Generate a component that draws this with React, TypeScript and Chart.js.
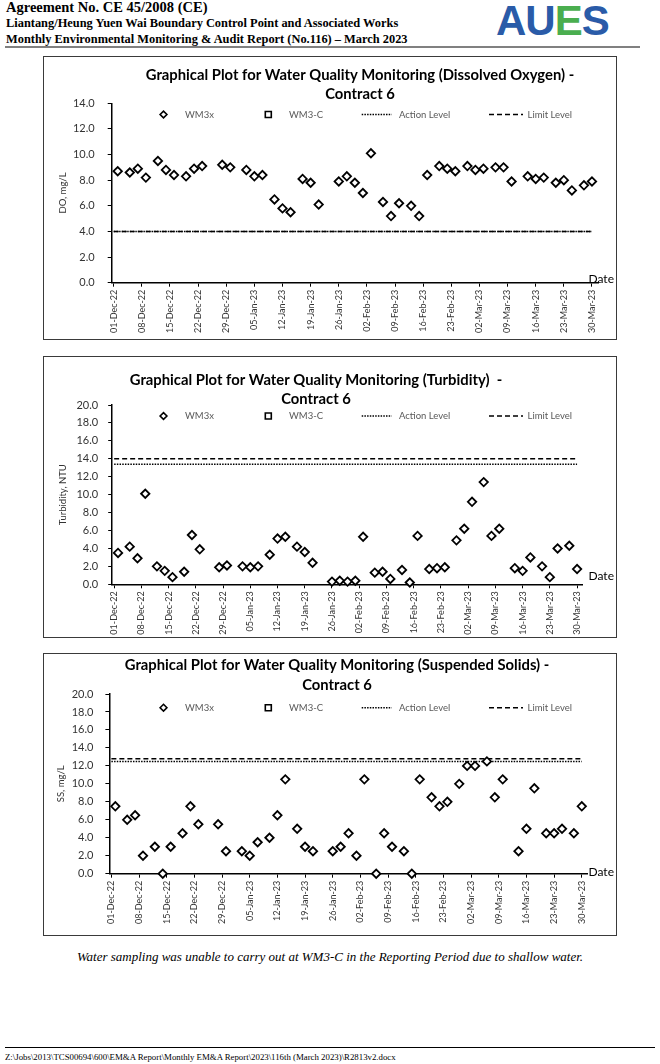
import React, { useEffect, useRef } from 'react';
import { Chart, registerables } from 'chart.js';

Chart.register(...registerables);

// ---------------- data ----------------
const sampleDates = [
  '2022-12-02', '2022-12-05', '2022-12-07', '2022-12-09', '2022-12-12', '2022-12-14',
  '2022-12-16', '2022-12-19', '2022-12-21', '2022-12-23', '2022-12-28', '2022-12-30',
  '2023-01-03', '2023-01-05', '2023-01-07', '2023-01-10', '2023-01-12', '2023-01-14',
  '2023-01-17', '2023-01-19', '2023-01-21', '2023-01-26', '2023-01-28', '2023-01-30',
  '2023-02-01', '2023-02-03', '2023-02-06', '2023-02-08', '2023-02-10', '2023-02-13',
  '2023-02-15', '2023-02-17', '2023-02-20', '2023-02-22', '2023-02-24', '2023-02-27',
  '2023-03-01', '2023-03-03', '2023-03-06', '2023-03-08', '2023-03-10', '2023-03-14',
  '2023-03-16', '2023-03-18', '2023-03-21', '2023-03-23', '2023-03-25', '2023-03-28',
  '2023-03-30',
];

const wm3xDO = [
  8.7, 8.6, 8.9, 8.2, 9.5, 8.8, 8.4, 8.3, 8.9, 9.1, 9.2, 9.0,
  8.8, 8.3, 8.4, 6.5, 5.8, 5.5, 8.1, 7.8, 6.1, 7.9, 8.3, 7.8,
  7.0, 10.1, 6.3, 5.2, 6.2, 6.0, 5.2, 8.4, 9.1, 8.9, 8.7, 9.1,
  8.8, 8.9, 9.0, 9.0, 7.9, 8.3, 8.1, 8.2, 7.8, 8.0, 7.2, 7.6, 7.9,
];

const wm3xTurbidity = [
  3.5, 4.2, 2.9, 10.1, 2.0, 1.5, 0.8, 1.4, 5.5, 3.9, 1.9, 2.1,
  2.0, 1.9, 2.0, 3.3, 5.1, 5.3, 4.2, 3.6, 2.4, 0.3, 0.4, 0.3,
  0.4, 5.3, 1.3, 1.4, 0.6, 1.6, 0.2, 5.4, 1.7, 1.8, 1.9, 4.9,
  6.2, 9.2, 11.4, 5.4, 6.2, 1.8, 1.5, 3.0, 2.0, 0.8, 4.0, 4.3, 1.7,
];

const wm3xSS = [
  7.5, 6.0, 6.5, 2.0, 3.0, 0.0, 3.0, 4.5, 7.5, 5.5, 5.5, 2.5,
  2.5, 2.0, 3.5, 4.0, 6.5, 10.5, 5.0, 3.0, 2.5, 2.5, 3.0, 4.5,
  2.0, 10.5, 0.0, 4.5, 3.0, 2.5, 0.0, 10.5, 8.5, 7.5, 8.0, 10.0,
  12.0, 12.0, 12.5, 8.5, 10.5, 2.5, 5.0, 9.5, 4.5, 4.5, 5.0, 4.5, 7.5,
];

// WM3-C: no sampling in the reporting period (shallow water)
const wm3cDO: number[] = [];
const wm3cTurbidity: number[] = [];
const wm3cSS: number[] = [];

const levelDates = ['2022-12-01', '2023-03-30'];
const doLevels = [4.0, 4.0]; // [action, limit]
const turbidityLevels = [13.4, 14.0];
const ssLevels = [12.5, 12.8];

const xTickLabels = [
  '01-Dec-22', '08-Dec-22', '15-Dec-22', '22-Dec-22', '29-Dec-22', '05-Jan-23',
  '12-Jan-23', '19-Jan-23', '26-Jan-23', '02-Feb-23', '09-Feb-23', '16-Feb-23',
  '23-Feb-23', '02-Mar-23', '09-Mar-23', '16-Mar-23', '23-Mar-23', '30-Mar-23',
];

const seriesNames = ['WM3x', 'WM3-C', 'Action Level', 'Limit Level'];

// ---------------- helpers ----------------
const BASE = Date.UTC(2022, 11, 1);
const MONTHS: Record<string, number> = {
  Jan: 0, Feb: 1, Mar: 2, Apr: 3, May: 4, Jun: 5, Jul: 6, Aug: 7, Sep: 8, Oct: 9, Nov: 10, Dec: 11,
};
const dayFromIso = (s: string) => {
  const [y, m, d] = s.split('-').map(Number);
  return (Date.UTC(y, m - 1, d) - BASE) / 864e5;
};
const dayFromLabel = (s: string) => {
  const [d, mon, yy] = s.split('-');
  return (Date.UTC(2000 + Number(yy), MONTHS[mon], Number(d)) - BASE) / 864e5;
};
const tickDays = xTickLabels.map(dayFromLabel);

const FONT = 'Lato, "Open Sans", sans-serif';

const decorPlugin = {
  id: 'excelDecor',
  afterDraw(chart: any, _a: any, o: any) {
    const ctx = chart.ctx as CanvasRenderingContext2D;
    ctx.save();
    ctx.fillStyle = '#000';
    ctx.textAlign = 'center';
    ctx.textBaseline = 'middle';
    ctx.font = `bold ${o.titleSize}px ${FONT}`;
    o.title.forEach((t: string, i: number) => ctx.fillText(t, o.titleX, o.titleY[i]));

    ctx.textAlign = 'left';
    chart.data.datasets.forEach((ds: any, i: number) => {
      const cx = o.legendX[i];
      const cy = o.legendY;
      ctx.strokeStyle = '#000';
      ctx.setLineDash([]);
      if (ds.showLine) {
        ctx.lineWidth = ds.borderWidth;
        ctx.setLineDash(ds.borderDash || []);
        const half = o.legendLineLen[i] / 2;
        ctx.beginPath();
        ctx.moveTo(cx - half, cy);
        ctx.lineTo(cx + half, cy);
        ctx.stroke();
        ctx.setLineDash([]);
      } else {
        ctx.lineWidth = 1.6;
        ctx.fillStyle = '#fff';
        ctx.beginPath();
        if (ds.pointStyle === 'rectRot') {
          const r = 3.4;
          ctx.moveTo(cx - r, cy);
          ctx.lineTo(cx, cy - r);
          ctx.lineTo(cx + r, cy);
          ctx.lineTo(cx, cy + r);
          ctx.closePath();
        } else {
          ctx.rect(cx - 3, cy - 3, 6, 6);
        }
        ctx.fill();
        ctx.stroke();
      }
      ctx.fillStyle = '#595959';
      ctx.font = `${o.legendSize}px ${FONT}`;
      ctx.fillText(ds.label, o.legendTextX[i], cy);
    });

    ctx.font = `${o.dateSize}px ${FONT}`;
    ctx.fillStyle = '#000';
    ctx.fillText('Date', o.dateX, o.dateY);
    ctx.restore();
  },
};

type Cfg = {
  box: { left: number; top: number; right: number; bottom: number };
  area: { left: number; top: number; right: number; bottom: number };
  yMax: number;
  yTitle: string;
  yTitleX: number;
  yTickPad: number;
  values: number[];
  wm3c: number[];
  levels: number[];
  title: string[];
  titleX: number;
  titleY: number[];
  legendY: number;
  dateY: number;
};

const charts: Cfg[] = [
  {
    box: { left: 43, top: 56, right: 617, bottom: 340 },
    area: { left: 111.7, top: 103.3, right: 598, bottom: 282.7 },
    yMax: 14, yTitle: 'DO, mg/L', yTitleX: 63.3, yTickPad: 13,
    values: wm3xDO, wm3c: wm3cDO, levels: doLevels,
    title: ['Graphical Plot for Water Quality Monitoring (Dissolved Oxygen) -', 'Contract 6'],
    titleX: 360, titleY: [75, 94.5], legendY: 114.5, dateY: 279.5,
  },
  {
    box: { left: 43, top: 356, right: 617, bottom: 638 },
    area: { left: 112.2, top: 405, right: 582.9, bottom: 584.3 },
    yMax: 20, yTitle: 'Turbidity, NTU', yTitleX: 63.3, yTickPad: 10,
    values: wm3xTurbidity, wm3c: wm3cTurbidity, levels: turbidityLevels,
    title: ['Graphical Plot for Water Quality Monitoring (Turbidity)  -', 'Contract 6'],
    titleX: 316, titleY: [380, 399.5], legendY: 416, dateY: 576,
  },
  {
    box: { left: 43, top: 653, right: 617, bottom: 936 },
    area: { left: 109.4, top: 694, right: 587.7, bottom: 873.7 },
    yMax: 20, yTitle: 'SS, mg/L', yTitleX: 60.7, yTickPad: 12,
    values: wm3xSS, wm3c: wm3cSS, levels: ssLevels,
    title: ['Graphical Plot for Water Quality Monitoring (Suspended Solids) -', 'Contract 6'],
    titleX: 337, titleY: [665, 685], legendY: 707.7, dateY: 872,
  },
];

function WQChart({ cfg }: { cfg: Cfg }) {
  const ref = useRef<HTMLCanvasElement>(null);
  const H = cfg.box.bottom - cfg.box.top;
  useEffect(() => {
    const top = cfg.box.top;
    const xH = H - (cfg.area.bottom - top);
    const tickFont = { family: FONT, size: 11 };
    const chart = new Chart(ref.current as HTMLCanvasElement, {
      type: 'scatter',
      data: {
        datasets: [
          {
            label: seriesNames[0],
            data: sampleDates.map((d, i) => ({ x: dayFromIso(d), y: cfg.values[i] })),
            pointStyle: 'rectRot',
            pointRadius: 4.2,
            pointBorderWidth: 1.8,
            borderColor: '#000',
            backgroundColor: '#fff',
            showLine: false,
            clip: false,
          },
          {
            label: seriesNames[1],
            data: cfg.wm3c.map((v, i) => ({ x: dayFromIso(sampleDates[i]), y: v })),
            pointStyle: 'rect',
            pointRadius: 4.2,
            pointBorderWidth: 1.8,
            borderColor: '#000',
            backgroundColor: '#fff',
            showLine: false,
          },
          {
            label: seriesNames[2],
            data: levelDates.map((d) => ({ x: dayFromIso(d), y: cfg.levels[0] })),
            showLine: true,
            borderColor: '#000',
            borderWidth: 1.5,
            borderDash: [1.5, 1.2],
            pointRadius: 0,
          },
          {
            label: seriesNames[3],
            data: levelDates.map((d) => ({ x: dayFromIso(d), y: cfg.levels[1] })),
            showLine: true,
            borderColor: '#000',
            borderWidth: 1.5,
            borderDash: [5, 3],
            pointRadius: 0,
          },
        ] as any,
      },
      options: {
        responsive: false,
        animation: false,
        devicePixelRatio: 1,
        layout: {
          padding: { left: 0, right: 660 - cfg.area.right, top: cfg.area.top - top, bottom: 0 },
        },
        plugins: {
          legend: { display: false },
          title: { display: false },
          tooltip: { enabled: false },
          excelDecor: {
            title: cfg.title,
            titleSize: 14.8,
            titleX: cfg.titleX,
            titleY: cfg.titleY.map((y) => y - top),
            legendX: [163.5, 268.3, 376.7, 506],
            legendTextX: [185, 289, 399, 527.5],
            legendLineLen: [0, 0, 30, 34],
            legendY: cfg.legendY - top,
            legendSize: 9.5,
            dateX: 588.5,
            dateY: cfg.dateY - top,
            dateSize: 12,
          },
        } as any,
        scales: {
          x: {
            type: 'linear',
            min: -0.5,
            max: 120.5,
            afterBuildTicks: (s: any) => {
              s.ticks = tickDays.map((v) => ({ value: v }));
            },
            afterFit: (s: any) => {
              s.height = xH;
              s.paddingLeft = 0;
              s.paddingRight = 0;
            },
            ticks: {
              autoSkip: false,
              minRotation: 90,
              maxRotation: 90,
              padding: 3,
              color: '#333',
              font: { family: FONT, size: 9 },
              callback: (_v: any, i: number) => xTickLabels[i],
            },
            grid: { drawOnChartArea: false, drawTicks: true, tickLength: 4, color: '#000', lineWidth: 1 },
            border: { display: true, color: '#000', width: 1.5 },
          },
          y: {
            type: 'linear',
            min: 0,
            max: cfg.yMax,
            afterFit: (s: any) => {
              s.width = cfg.area.left;
              s.paddingTop = 0;
              s.paddingBottom = 0;
            },
            ticks: {
              stepSize: 2,
              padding: cfg.yTickPad,
              color: '#333',
              font: tickFont,
              callback: (v: any) => Number(v).toFixed(1),
            },
            grid: { drawOnChartArea: false, drawTicks: true, tickLength: 4, color: '#000', lineWidth: 1 },
            border: { display: true, color: '#000', width: 1.5 },
            title: {
              display: true,
              text: cfg.yTitle,
              color: '#333',
              font: { family: FONT, size: 9.5 },
              padding: { top: cfg.yTitleX - 5.7, bottom: 0 },
            },
          },
        },
      } as any,
      plugins: [decorPlugin as any],
    });
    return () => chart.destroy();
  }, [cfg, H]);

  return (
    <>
      <div
        style={{
          position: 'absolute',
          left: cfg.box.left,
          top: cfg.box.top,
          width: cfg.box.right - cfg.box.left,
          height: H,
          border: '1px solid #3a3a3a',
          boxSizing: 'border-box',
        }}
      />
      <canvas
        ref={ref}
        width={660}
        height={H}
        style={{ position: 'absolute', left: 0, top: cfg.box.top, width: 660, height: H }}
      />
    </>
  );
}

const headerLines = [
  'Agreement No. CE 45/2008 (CE)',
  'Liantang/Heung Yuen Wai Boundary Control Point and Associated Works',
  'Monthly Environmental Monitoring & Audit Report (No.116) \u2013 March 2023',
];
const captionText =
  'Water sampling was unable to carry out at WM3-C in the Reporting Period due to shallow water.';
const footerText =
  'Z:\\Jobs\\2013\\TCS00694\\600\\EM&A Report\\Monthly EM&A Report\\2023\\116th (March 2023)\\R2813v2.docx';

const SERIF = '"Liberation Serif", "Times New Roman", serif';

export default function App() {
  return (
    <div
      style={{
        position: 'absolute',
        left: 0,
        top: 0,
        width: 660,
        height: 1064,
        background: '#fff',
        overflow: 'hidden',
      }}
    >
      {headerLines.map((t, i) => (
        <div
          key={i}
          style={{
            position: 'absolute',
            left: 6,
            top: [0, 16, 32][i],
            fontFamily: SERIF,
            fontWeight: 'bold',
            fontSize: i === 0 ? 14.5 : 12.4,
            lineHeight: '15px',
            whiteSpace: 'nowrap',
            color: '#000',
          }}
        >
          {t}
        </div>
      ))}
      <div
        style={{
          position: 'absolute',
          left: 496,
          top: 0,
          fontFamily: '"Liberation Sans", Arial, sans-serif',
          fontWeight: 'bold',
          fontSize: 42,
          lineHeight: '42px',
          letterSpacing: -1,
          whiteSpace: 'nowrap',
        }}
      >
        <span style={{ color: '#2a5ba8' }}>AU</span>
        <span style={{ color: '#4aae4f' }}>E</span>
        <span style={{ color: '#2a5ba8' }}>S</span>
      </div>
      <div style={{ position: 'absolute', left: 5, top: 46, width: 635, height: 2, background: '#808080' }} />

      {charts.map((c, i) => (
        <WQChart key={i} cfg={c} />
      ))}

      <div
        style={{
          position: 'absolute',
          left: 0,
          width: 660,
          top: 949,
          textAlign: 'center',
          fontFamily: SERIF,
          fontStyle: 'italic',
          fontSize: 13,
          lineHeight: '16px',
          color: '#000',
        }}
      >
        {captionText}
      </div>

      <div style={{ position: 'absolute', left: 5, top: 1047, width: 650, height: 1, background: '#000' }} />
      <div
        style={{
          position: 'absolute',
          left: 5,
          top: 1051,
          fontFamily: SERIF,
          fontSize: 8.8,
          lineHeight: '12px',
          whiteSpace: 'nowrap',
          color: '#000',
        }}
      >
        {footerText}
      </div>
    </div>
  );
}
